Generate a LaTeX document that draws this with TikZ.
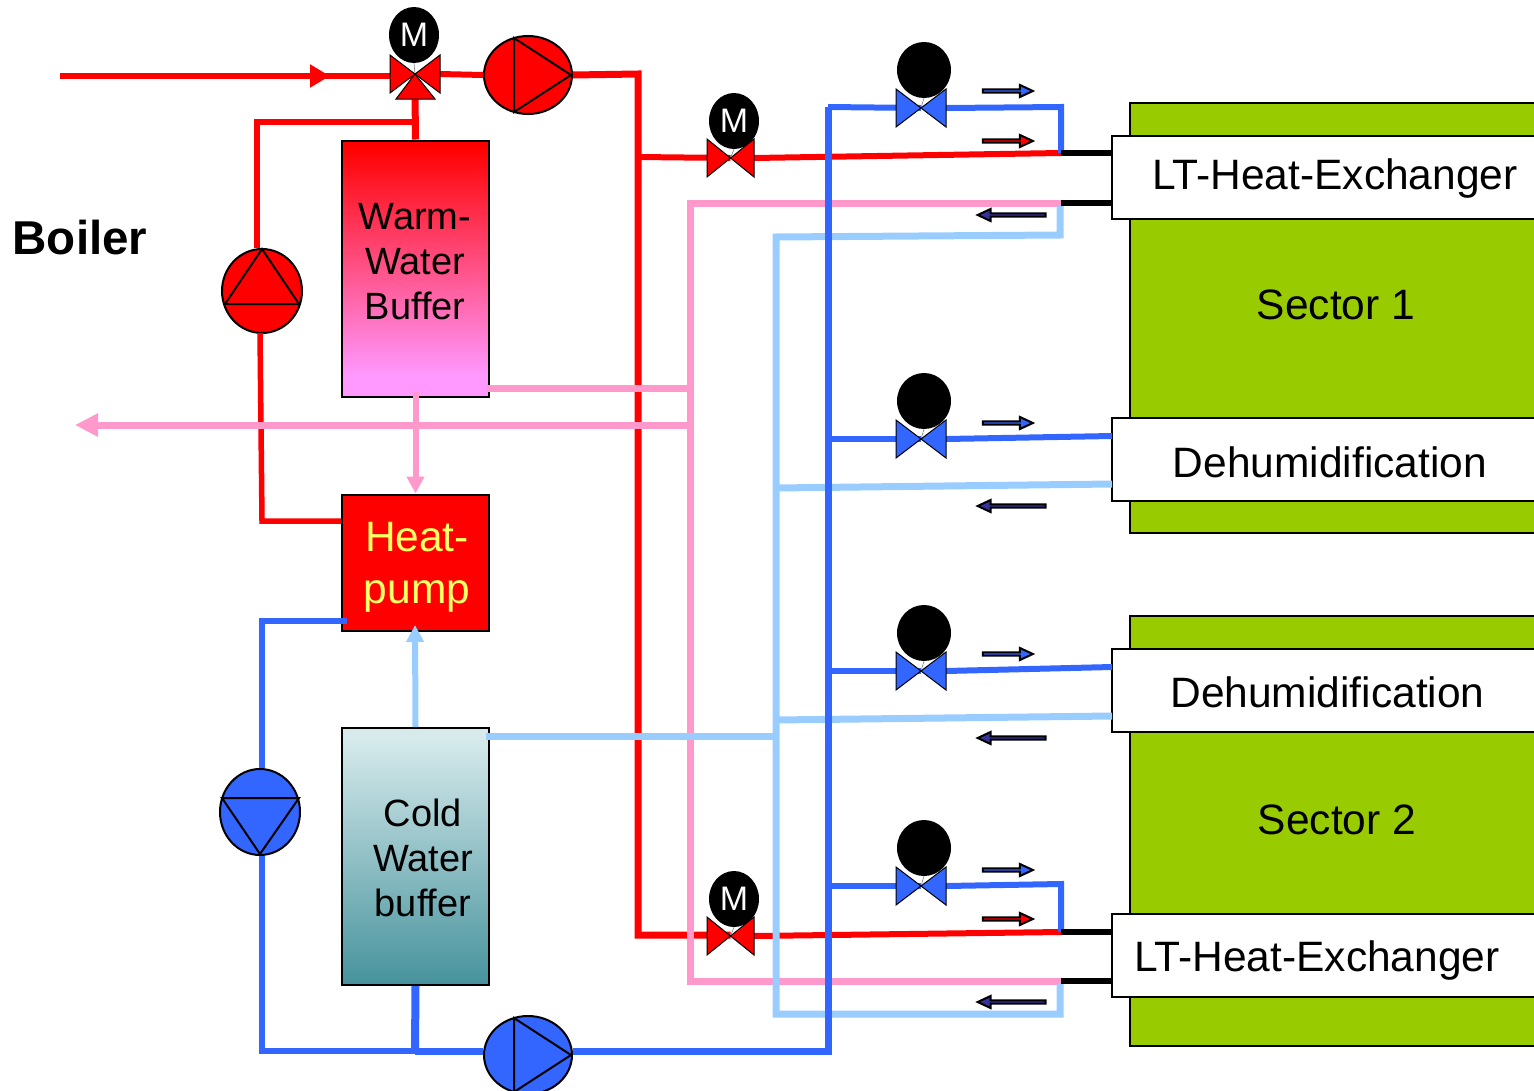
\documentclass[tikz,border=0pt]{standalone}
\usepackage{fontspec}
\setmainfont{Liberation Sans}
\usetikzlibrary{arrows.meta,shapes.geometric,shapes.arrows}
\definecolor{hotred}{RGB}{255,0,0}
\definecolor{hotpink}{RGB}{255,153,204}
\definecolor{coldblue}{RGB}{51,102,255}
\definecolor{paleblue}{RGB}{153,204,255}
\definecolor{sectorgreen}{RGB}{153,204,0}
\definecolor{returnnavy}{RGB}{51,51,153}
\definecolor{warmend}{RGB}{255,153,255}
\definecolor{coldtop}{RGB}{214,234,236}
\definecolor{coldend}{RGB}{70,146,156}
\definecolor{pumptext}{RGB}{255,255,102}
\pgfdeclareverticalshading{warmfade}{100bp}{color(0bp)=(warmend); color(29bp)=(warmend); color(74bp)=(hotred); color(100bp)=(hotred)}
\pgfdeclareverticalshading{coldfade}{100bp}{color(0bp)=(coldend); color(25bp)=(coldend); color(73bp)=(coldtop); color(100bp)=(coldtop)}
\newcommand{\valveshape}[2]{%
  \draw[line width=1pt, fill=#2] (#1.north west) -- (#1.center) -- (#1.south west) -- cycle
    (#1.north east) -- (#1.center) -- (#1.south east) -- cycle;}

\begin{document}
\begin{tikzpicture}[
  x=1pt, y=-1pt,
  sector/.style={rectangle, draw=black, line width=2pt, fill=sectorgreen,
    minimum width=430pt, minimum height=430pt},
  exchanger/.style={rectangle, draw=black, line width=2pt, fill=white,
    minimum width=448pt, minimum height=83pt},
  tank/.style={rectangle, draw=black, line width=2pt,
    minimum width=147pt, minimum height=256pt},
  boxtext/.style={font=\fontsize{42.5}{50}\selectfont},
  tanktext/.style={align=center, font=\fontsize{38}{44.7}\selectfont},
  pump/.style={ellipse, draw=black, line width=2pt, inner sep=0pt},
  impeller/.style={draw=black, line width=2pt},
  motor/.style={ellipse, fill=black, text=white, inner sep=0pt,
    minimum width=50pt, minimum height=56pt, font=\fontsize{34}{36}\selectfont},
  valvebody/.style={rectangle, inner sep=0pt, outer sep=0pt,
    minimum width=50pt, minimum height=38pt},
  stem/.style={line width=0.6pt, draw=gray},
  hotpipe/.style={draw=hotred, line width=6pt},
  pinkpipe/.style={draw=hotpink, line width=7pt},
  palepipe/.style={draw=paleblue, line width=7pt},
  bluepipe/.style={draw=coldblue, line width=6pt},
  tail/.style={draw=black, line width=5.5pt},
  flowarrow/.style={single arrow, draw=black, line width=2pt, inner sep=0pt,
    minimum height=50pt, minimum width=12pt, single arrow head extend=2.5pt,
    single arrow tip angle=50},
  backarrow/.style={flowarrow, fill=returnnavy, shape border rotate=180, minimum height=68pt}
]
\clip (0,0) rectangle (1534,1090);

% sectors
\node[sector] (sectorA) at (1345,318) {};
\node[sector] (sectorB) at (1345,831) {};
\node[exchanger] (ltA) at (1336,177.5) {};
\node[exchanger] (dehumA) at (1336,459) {};
\node[exchanger] (dehumB) at (1336,690.5) {};
\node[exchanger] (ltB) at (1336,955.5) {};
\node[boxtext] (ltAtext) at (1335,179) {LT-Heat-Exchanger};
\node[boxtext] (sectorAtext) at (1336,305) {Sector 1};
\node[boxtext] (dehumAtext) at (1330,462) {Dehumidification};
\node[boxtext] (dehumBtext) at (1327.5,692) {Dehumidification};
\node[boxtext] (sectorBtext) at (1337,820) {Sector 2};
\node[boxtext] (ltBtext) at (1317,960) {LT-Heat-Exchanger};

% tanks
\node[tank, shading=warmfade] (warm) at (415.5,268.5) {};
\node[tank, minimum height=136pt, fill=hotred] (heatpump) at (415.5,562.5) {};
\node[tank, minimum height=257pt, shading=coldfade] (cold) at (415.5,856.5) {};
\node[tanktext] (warmtext) at (415,261.5) {Warm-\\Water\\Buffer};
\node[tanktext] (coldtext) at (423,858) {Cold\\Water\\buffer};
\node[tanktext, text=pumptext, font=\fontsize{42.5}{52}\selectfont] (heatpumptext) at (417,567) {Heat-\\pump};
\node[font=\bfseries\fontsize{47.5}{50}\selectfont] (boiler) at (80,238) {Boiler};

% pumps
\node[pump, fill=hotred, minimum width=88pt, minimum height=78pt] (pumpTop) at (528,75) {};
\node[pump, fill=hotred, minimum width=80pt, minimum height=84pt] (pumpHot) at (262,291) {};
\node[pump, fill=coldblue, minimum width=80pt, minimum height=86pt] (pumpCold) at (260,812) {};
\node[pump, fill=coldblue, minimum width=88pt, minimum height=78pt] (pumpLow) at (528,1055) {};
\draw[impeller] (514,38) -- (571,75) -- (514,112) -- cycle;
\draw[impeller] (262,249) -- (299,304) -- (225,304) -- cycle;
\draw[impeller] (222,798) -- (299,798) -- (260,854) -- cycle;
\draw[impeller] (514,1018) -- (571,1055) -- (514,1092) -- cycle;

% valves
\node[valvebody] (valveMix) at (415,74) {};
\node[valvebody, minimum width=47pt] (valveHotA) at (730.5,158) {};
\node[valvebody, minimum width=47pt] (valveHotB) at (730.5,936) {};
\node[valvebody] (valveSA) at (921,108) {};
\node[valvebody] (valveSB) at (921,439) {};
\node[valvebody] (valveSC) at (921,671) {};
\node[valvebody] (valveSD) at (921,886) {};

\coordinate (inlet) at (60,76);
\coordinate (inflow) at (330,76);
\coordinate (hotTop) at (638,74);
\coordinate (hotLow) at (638,935);
\coordinate (hotUp) at (638,157);
\coordinate (hotEndA) at (1061,153);
\coordinate (hotEndB) at (1061,932);
\coordinate (loopTop) at (257,122);
\coordinate (loopTee) at (415,122);
\coordinate (loopOut) at (260,333);
\coordinate (loopLow) at (262,521);
\coordinate (pinkTop) at (690,203);
\coordinate (pinkLow) at (690,981);
\coordinate (pinkEndA) at (1061,203);
\coordinate (pinkEndB) at (1061,981);
\coordinate (pinkTank) at (487,388);
\coordinate (pinkTee) at (690,388);
\coordinate (pinkOut) at (75,425);
\coordinate (pinkJoin) at (694,425);
\coordinate (paleTop) at (776,237);
\coordinate (paleLow) at (776,1014);
\coordinate (paleRiseA) at (1060,235);
\coordinate (paleRiseB) at (1060,1014);
\coordinate (paleEndA) at (1060,206);
\coordinate (paleEndB) at (1060,984);
\coordinate (paleTank) at (486,736);
\coordinate (paleTee) at (776,736);
\coordinate (paleDehumA) at (776,488);
\coordinate (paleDehumB) at (776,720);
\coordinate (paleExitA) at (1112,484);
\coordinate (paleExitB) at (1112,716);
\coordinate (paleHead) at (415,625);
\coordinate (blueTop) at (828,107);
\coordinate (blueLow) at (828,1051);
\coordinate (blueTee) at (415,1051);
\coordinate (blueLeft) at (262,1051);
\coordinate (blueUp) at (262,621);
\coordinate (blueIn) at (347,621);
\coordinate (blueExitA) at (1112,436);
\coordinate (blueExitB) at (1112,667);

% hot side
\draw[hotpipe] (inlet) -- (inlet -| valveMix.center);
\draw[hotpipe, -{Triangle[length=20pt,width=22pt]}] (inlet) -- (inflow);
\draw[hotpipe] (valveMix.east) -- (pumpTop.west);
\draw[hotpipe, line width=7pt] (valveMix.south) -- (warm.north);
\draw[hotpipe, line width=5.5pt] (loopTee) -- (loopTop) -- (loopTop |- pumpHot.north);
\draw[hotpipe, line width=5.5pt] (loopOut) -- (loopLow) -- (loopLow -| heatpump.west);
\draw[hotpipe, line width=7pt] (pumpTop.east) -- (hotTop) -- (hotLow) -- (hotLow -| valveHotB.center);
\draw[hotpipe] (hotUp) -- (valveHotA.center);
\draw[hotpipe] (valveHotA.east) -- (hotEndA);
\draw[hotpipe] (valveHotB.east) -- (hotEndB);

% return side
\draw[pinkpipe] (pinkEndA) -- (pinkTop) -- (pinkLow) -- (pinkEndB);
\draw[pinkpipe] (pinkTank) -- (pinkTee);
\draw[pinkpipe, -{Triangle[length=23pt,width=22pt]}] (pinkJoin) -- (pinkOut);
\draw[draw=hotpink, line width=6pt, -{Triangle[length=17pt,width=17pt]}] (warm.south) ++(0,-6) -- (heatpump.north);

% cold return
\draw[palepipe] (paleEndA) -- (paleRiseA) -- (paleTop) -- (paleLow) -- (paleRiseB) -- (paleEndB);
\draw[palepipe] (paleTank) -- (paleTee);
\draw[palepipe] (paleDehumA) -- (paleExitA);
\draw[palepipe] (paleDehumB) -- (paleExitB);
\draw[draw=paleblue, line width=6pt, -{Triangle[length=17pt,width=17pt]}] (cold.north) -- (paleHead);

% cold side
\draw[bluepipe, line width=7pt] (blueTop) -- (blueLow) -- (blueLow -| pumpLow.east);
\draw[bluepipe, line width=8pt] (cold.south) -- (blueTee);
\draw[bluepipe, line width=7pt] (blueTee) -- (blueTee -| pumpLow.west);
\draw[bluepipe] (blueTee) -- (blueLeft) -- (blueLeft |- pumpCold.south);
\draw[bluepipe] (blueUp |- pumpCold.north) -- (blueUp) -- (blueIn);
\draw[bluepipe] (blueTop) -- (valveSA.center);
\draw[bluepipe] (valveSA.east) -- (1061,107) -- (hotEndA);
\draw[bluepipe] (828,439) -- (valveSB.center);
\draw[bluepipe] (valveSB.east) -- (blueExitA);
\draw[bluepipe] (828,671) -- (valveSC.center);
\draw[bluepipe] (valveSC.east) -- (blueExitB);
\draw[bluepipe] (828,886) -- (valveSD.center);
\draw[bluepipe] (valveSD.east) -- (1061,884) -- (hotEndB);

% stubs into the exchangers
\draw[tail] (hotEndA) -- (hotEndA -| ltA.west);
\draw[tail] (pinkEndA) -- (pinkEndA -| ltA.west);
\draw[tail] (hotEndB) -- (hotEndB -| ltB.west);
\draw[tail] (pinkEndB) -- (pinkEndB -| ltB.west);

% valves on top of the pipes
\node[motor] (motorMix) at (414,35) {M};
\node[motor] (motorHotA) at (734,121) {M};
\node[motor] (motorHotB) at (734,899) {M};
\node[motor, minimum width=54pt] (motorSA) at (924,70) {};
\node[motor, minimum width=54pt] (motorSB) at (924,401) {};
\node[motor, minimum width=54pt] (motorSC) at (924,633) {};
\node[motor, minimum width=54pt] (motorSD) at (924,848) {};
\draw[stem] (motorMix.south) -- (valveMix.center);
\draw[stem] (motorHotA.south) -- (valveHotA.center);
\draw[stem] (motorHotB.south) -- (valveHotB.center);
\draw[stem] (motorSA.south) -- (valveSA.center);
\draw[stem] (motorSB.south) -- (valveSB.center);
\draw[stem] (motorSC.south) -- (valveSC.center);
\draw[stem] (motorSD.south) -- (valveSD.center);
\draw[line width=1pt, fill=hotred] (valveMix.center) -- (396,99) -- (435,99) -- cycle;
\valveshape{valveMix}{hotred}
\valveshape{valveHotA}{hotred}
\valveshape{valveHotB}{hotred}
\valveshape{valveSA}{coldblue}
\valveshape{valveSB}{coldblue}
\valveshape{valveSC}{coldblue}
\valveshape{valveSD}{coldblue}

% flow markers
\node[flowarrow, fill=coldblue] (flowA) at (1006,91) {};
\node[flowarrow, fill=hotred] (flowB) at (1006,141) {};
\node[flowarrow, fill=coldblue] (flowC) at (1006,423) {};
\node[flowarrow, fill=coldblue] (flowD) at (1006,654) {};
\node[flowarrow, fill=coldblue] (flowE) at (1006,870) {};
\node[flowarrow, fill=hotred] (flowF) at (1006,919) {};
\node[backarrow] (backA) at (1013.5,215) {};
\node[backarrow] (backB) at (1013.5,506) {};
\node[backarrow] (backC) at (1013.5,738) {};
\node[backarrow] (backD) at (1013.5,1002) {};
\end{tikzpicture}
\end{document}
